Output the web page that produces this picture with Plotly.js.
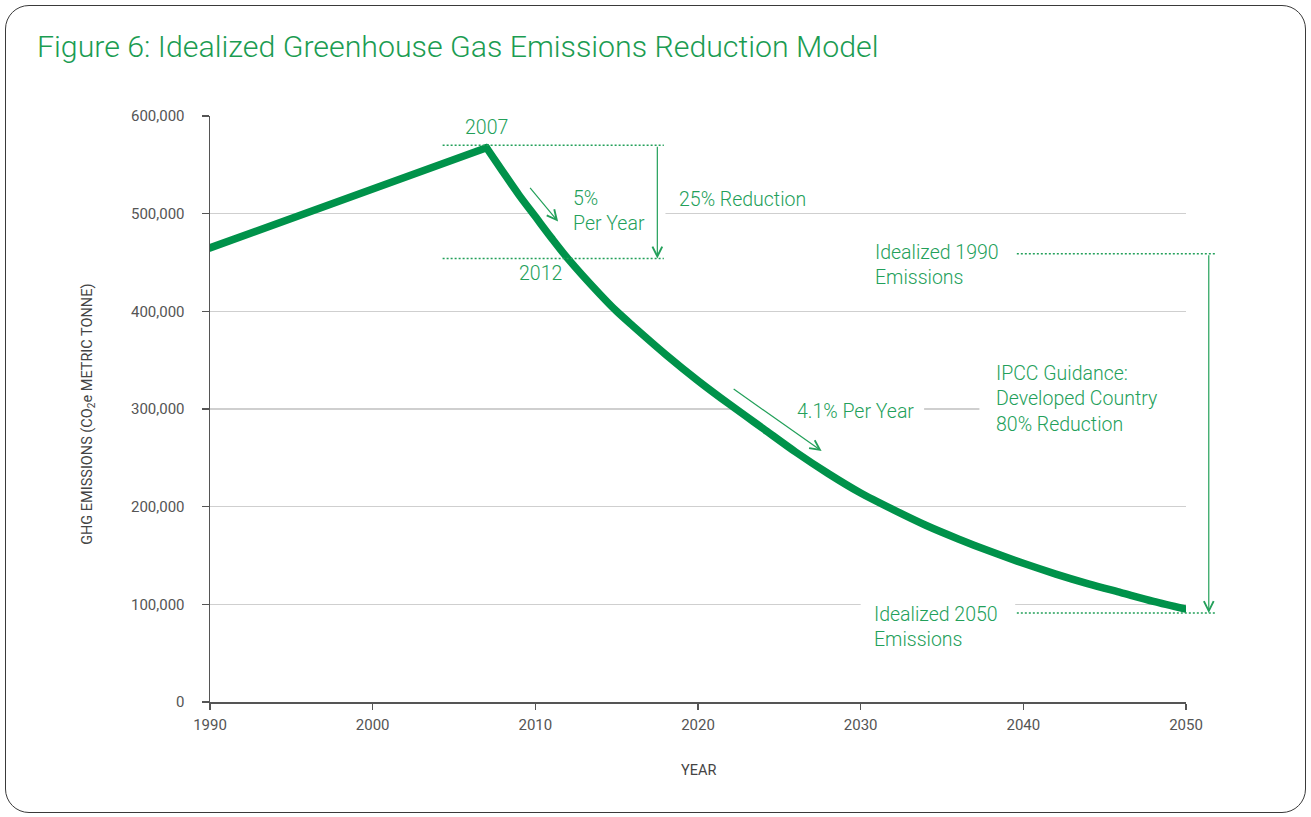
<!DOCTYPE html>
<html>
<head>
<meta charset="utf-8">
<script src="https://cdn.plot.ly/plotly-3.0.1.min.js"></script>
<style>
  html, body { margin: 0; padding: 0; background: #fff; }
  #frame { position: absolute; left: 5px; top: 5px; width: 1301px; height: 808px;
           border: 1.5px solid #3a3a3a; border-radius: 24px; box-sizing: border-box; }
  #chart { position: absolute; left: 0; top: 0; width: 1311px; height: 817px; }
  #chart path.js-line { stroke-linecap: round !important; stroke-linejoin: miter !important; }
</style>
</head>
<body>
<div id="frame"></div>
<div id="chart"></div>
<script>
// ---- data ----
const riseYears = [1990, 2007];
const riseValues = [465000, 567500];

const declineYears = [2007, 2008, 2009, 2010, 2011, 2012, 2014, 2015, 2016, 2018, 2020, 2022, 2024, 2026, 2028, 2030, 2032, 2034, 2036, 2038, 2040, 2042, 2044, 2046, 2048, 2050];
const declineValues = [567500, 543000, 519000, 497000, 475000, 454000, 417000, 400000, 385000, 356000, 329000, 304000, 280000, 256000, 234000, 214000, 197000, 181000, 167000, 154000, 142000, 131000, 121000, 112000, 103000, 95000];

const xTicks = [1990, 2000, 2010, 2020, 2030, 2040, 2050];
const yTicks = [0, 100000, 200000, 300000, 400000, 500000, 600000];

// reference levels used by the annotations
const peakLevel = 570000;      // 2007 dotted line
const level2012 = 454000;      // 2012 dotted line
const level1990 = 459000;      // idealized 1990 emissions
const level2050 = 91000;       // idealized 2050 emissions

const X0 = 1990, X1 = 2050, Y1 = 600000;
const px = yr => (yr - X0) / (X1 - X0);
const py = v => v / Y1;

const lineGreen = '#00924a';
const textGreen = '#23a05a';
const fontFam = 'Roboto, "Open Sans", Arial, sans-serif';

const traces = [
  { x: riseYears, y: riseValues, mode: 'lines', line: { color: lineGreen, width: 7.5 }, hoverinfo: 'skip' },
  { x: declineYears, y: declineValues, mode: 'lines', line: { color: lineGreen, width: 7.5, shape: 'spline', smoothing: 0.8 }, hoverinfo: 'skip' }
];

function dotted(x0, x1, v) {
  return { type: 'line', xref: 'paper', yref: 'paper', x0: px(x0), x1: px(x1), y0: py(v), y1: py(v),
           line: { color: textGreen, width: 1.5, dash: '2px,2px' }, layer: 'above' };
}
function mask(x0, x1, v) {
  return { type: 'rect', xref: 'x', yref: 'y', x0: x0, x1: x1, y0: v - 5000, y1: v + 5000,
           fillcolor: '#ffffff', line: { width: 0 }, layer: 'between' };
}

const shapes = [
  mask(2010.0, 2018.0, 500000),
  mask(2022.3, 2033.9, 300000),
  mask(2037.3, 2050.5, 300000),
  mask(2030.0, 2039.5, 100000),
  dotted(2004.3, 2017.9, peakLevel),
  dotted(2004.3, 2017.9, level2012),
  dotted(2039.6, 2051.8, level1990),
  dotted(2039.6, 2051.8, level2050)
];

function ann(text, x, y, opts) {
  return Object.assign({ text: text, x: x, y: y, xref: 'x', yref: 'y', showarrow: false,
    font: { family: fontFam, size: 19.5, color: textGreen, weight: 300 } }, opts || {});
}
function arrow(xTail, yTail, xHead, yHead, ref) {
  const a = { text: '', x: xHead, y: yHead, ax: xTail, ay: yTail, xref: 'x', yref: 'y', axref: 'x', ayref: 'y',
           showarrow: true, arrowhead: 5, arrowsize: 1.6, arrowwidth: 1.2, arrowcolor: textGreen, standoff: 0, startstandoff: 0 };
  if (ref === 'paper') {
    Object.assign(a, { x: px(xHead), y: py(yHead), ax: px(xTail), ay: py(yTail), xref: 'paper', yref: 'paper', axref: 'paper', ayref: 'paper' });
  }
  return a;
}

const annotations = [
  ann('2007', 2007, 588000, { xanchor: 'center', yanchor: 'middle' }),
  ann('2012', 2010.3, 439000, { xanchor: 'center', yanchor: 'middle' }),
  ann('5%<br>Per Year', 2012.2, 502500, { xanchor: 'left', yanchor: 'middle', align: 'left' }),
  ann('25% Reduction', 2018.7, 515000, { xanchor: 'left', yanchor: 'middle' }),
  ann('Idealized 1990<br>Emissions', 2030.75, 447000, { xanchor: 'left', yanchor: 'middle', align: 'left' }),
  ann('4.1% Per Year', 2033.4, 297000, { xanchor: 'right', yanchor: 'middle' }),
  ann('IPCC Guidance:<br>Developed Country<br>80% Reduction', 2038.2, 310000, { xanchor: 'left', yanchor: 'middle', align: 'left' }),
  ann('Idealized 2050<br>Emissions', 2030.7, 77300, { xanchor: 'left', yanchor: 'middle', align: 'left' }),
  arrow(2009.6, 528000, 2011.4, 492000),
  arrow(2017.5, peakLevel, 2017.5, level2012),
  arrow(2022.1, 321500, 2027.6, 257000),
  arrow(2051.4, level1990, 2051.4, level2050, 'paper'),
  { text: 'GHG EMISSIONS (CO<sub>2</sub>e METRIC TONNE)', xref: 'paper', yref: 'paper', x: (88 - 210) / 976, y: 0.49,
    textangle: -90, showarrow: false, xanchor: 'center', yanchor: 'middle',
    font: { family: fontFam, size: 14.5, color: '#444' } },
  { text: 'YEAR', xref: 'paper', yref: 'paper', x: 0.5, y: -(770 - 702) / 586, showarrow: false,
    xanchor: 'center', yanchor: 'middle', font: { family: fontFam, size: 14.5, color: '#444' } }
];

const layout = {
  width: 1311, height: 817,
  paper_bgcolor: 'rgba(0,0,0,0)', plot_bgcolor: 'rgba(0,0,0,0)',
  margin: { l: 210, r: 125, t: 116, b: 115 },
  showlegend: false,
  title: { text: 'Figure 6: Idealized Greenhouse Gas Emissions Reduction Model', xref: 'container', yref: 'container',
           x: 37 / 1311, xanchor: 'left', y: 1 - 46 / 817, yanchor: 'middle',
           font: { family: fontFam, size: 30.3, color: '#1b9c52', weight: 300 } },
  xaxis: { range: [X0, X1], tickvals: xTicks, ticktext: xTicks.map(String), showgrid: false, zeroline: false,
           showline: true, linecolor: '#555', linewidth: 1.5, ticks: 'outside', ticklen: 6, tickwidth: 1.5, tickcolor: '#555',
           ticklabelstandoff: 2, tickfont: { family: fontFam, size: 15, color: '#555' }, fixedrange: true },
  yaxis: { range: [0, Y1], tickvals: yTicks, ticktext: yTicks.map(v => v.toLocaleString('en-US')), showgrid: true,
           gridcolor: '#cfcfcf', gridwidth: 1.5, zeroline: false, showline: true, linecolor: '#555', linewidth: 1.5,
           ticks: 'outside', ticklen: 7, tickwidth: 1.5, tickcolor: '#555', ticklabelstandoff: 14,
           tickfont: { family: fontFam, size: 15, color: '#555' }, fixedrange: true },
  shapes: shapes,
  annotations: annotations
};

Plotly.newPlot('chart', traces, layout, { displayModeBar: false, staticPlot: true });
</script>
</body>
</html>
